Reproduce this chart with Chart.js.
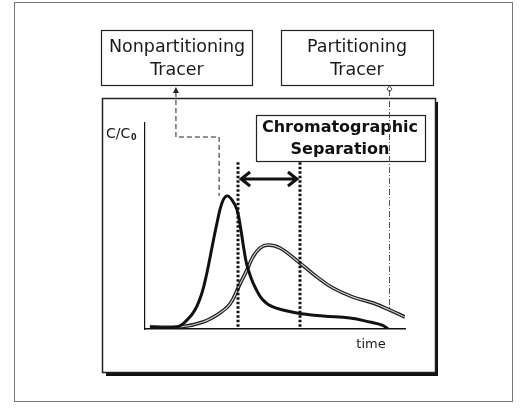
<!DOCTYPE html>
<html>
<head>
<meta charset="utf-8">
<script src="https://cdn.jsdelivr.net/npm/chart.js@4/dist/chart.umd.min.js"></script>
<style>html,body{margin:0;background:#fff}</style>
</head>
<body>
<canvas id="c" width="523" height="408"></canvas>
<script>
// breakthrough curves, time in % of the axis, concentration as C/C0
const npTime = [1.9, 12.3, 16.2, 19.2, 21.9, 23.8, 25.8, 27.7, 29.6, 31.5, 33.5, 35.4, 36.9, 38.1, 39.2, 40.8, 42.3, 45.0, 49.2, 58.5, 68.5, 78.8, 86.5, 91.2, 93.5];
const npConc = [0.01, 0.01, 0.044, 0.092, 0.175, 0.272, 0.398, 0.515, 0.612, 0.646, 0.626, 0.578, 0.48, 0.383, 0.31, 0.248, 0.204, 0.146, 0.107, 0.078, 0.063, 0.053, 0.034, 0.019, 0.0];
const pTime = [1.9, 13.5, 22.3, 28.8, 32.7, 36.5, 39.2, 41.5, 44.2, 47.3, 51.9, 59.6, 66.2, 72.3, 80.0, 87.7, 94.2, 100];
const pConc = [0.01, 0.01, 0.034, 0.078, 0.121, 0.218, 0.286, 0.35, 0.393, 0.408, 0.393, 0.32, 0.252, 0.199, 0.155, 0.126, 0.092, 0.058];

// annotation positions (data units)
const separation = [35.8, 59.6];
const separationTop = 0.81;
const arrowLevel = 0.728;
const npLeaderX = [11.9, 28.5];
const npLeaderY = [0.932, 0.646];
const pLeaderX = 93.8;
const pLeaderY = 0.10;

const pts = (xs, ys) => xs.map((x, i) => ({x: x, y: ys[i]}));
const FONT = '"DejaVu Sans", sans-serif';

function box(ctx, x, y, w, h, lw) {
  ctx.save();
  ctx.strokeStyle = '#222';
  ctx.lineWidth = lw;
  ctx.strokeRect(x, y, w, h);
  ctx.restore();
}

const frame = {
  id: 'frame',
  beforeDraw(chart) {
    const ctx = chart.ctx;
    ctx.save();
    ctx.fillStyle = '#fff';
    ctx.fillRect(0, 0, 523, 408);
    ctx.strokeStyle = '#777';
    ctx.lineWidth = 1;
    ctx.strokeRect(14.5, 2.5, 498, 399);
    // panel with shadow
    ctx.fillStyle = '#111';
    ctx.fillRect(106, 102, 332, 274);
    ctx.fillStyle = '#fff';
    ctx.fillRect(102, 98, 333, 274);
    ctx.restore();
    box(ctx, 102.5, 98.5, 333, 274, 1.5);
    box(ctx, 101.5, 30.5, 151, 55, 1.2);
    box(ctx, 281.5, 30.5, 152, 55, 1.2);

    ctx.save();
    ctx.fillStyle = '#1a1a1a';
    ctx.textAlign = 'center';
    ctx.textBaseline = 'middle';
    ctx.font = '17.5px ' + FONT;
    ctx.fillText('Nonpartitioning', 177, 47);
    ctx.fillText('Tracer', 177, 70);
    ctx.fillText('Partitioning', 357, 47);
    ctx.fillText('Tracer', 357, 70);
    ctx.font = '13px ' + FONT;
    ctx.fillText('time', 371, 345);
    ctx.textAlign = 'left';
    ctx.font = '14px ' + FONT;
    ctx.fillText('C/C', 106, 134);
    ctx.font = 'bold 8px ' + FONT;
    ctx.fillText('0', 131, 138);
    ctx.restore();
  },
  afterDatasetsDraw(chart) {
    const ctx = chart.ctx;
    const xs = chart.scales.x, ys = chart.scales.y;
    const base = ys.getPixelForValue(0);

    ctx.save();
    // separation box
    box(ctx, 256.5, 115.5, 169, 46, 1.2);
    ctx.fillStyle = '#111';
    ctx.textAlign = 'center';
    ctx.textBaseline = 'middle';
    ctx.font = 'bold 16px ' + FONT;
    ctx.fillText('Chromatographic', 340, 128);
    ctx.fillText('Separation', 340, 150);

    // dotted arrival lines
    ctx.strokeStyle = '#111';
    ctx.lineWidth = 3;
    ctx.setLineDash([2.5, 2]);
    separation.forEach(t => {
      const px = Math.round(xs.getPixelForValue(t));
      ctx.beginPath();
      ctx.moveTo(px, ys.getPixelForValue(separationTop));
      ctx.lineTo(px, base);
      ctx.stroke();
    });

    // double arrow
    ctx.setLineDash([]);
    const ay = ys.getPixelForValue(arrowLevel);
    const a0 = xs.getPixelForValue(separation[0]) + 3;
    const a1 = xs.getPixelForValue(separation[1]) - 3;
    ctx.lineWidth = 3;
    ctx.beginPath();
    ctx.moveTo(a0, ay); ctx.lineTo(a1, ay);
    ctx.moveTo(a0 + 9, ay - 7); ctx.lineTo(a0, ay); ctx.lineTo(a0 + 9, ay + 7);
    ctx.moveTo(a1 - 9, ay - 7); ctx.lineTo(a1, ay); ctx.lineTo(a1 - 9, ay + 7);
    ctx.stroke();

    // nonpartitioning leader
    const lx0 = xs.getPixelForValue(npLeaderX[0]);
    const lx1 = xs.getPixelForValue(npLeaderX[1]);
    const ly0 = ys.getPixelForValue(npLeaderY[0]);
    const ly1 = ys.getPixelForValue(npLeaderY[1]);
    ctx.lineWidth = 1;
    ctx.strokeStyle = '#222';
    ctx.setLineDash([5, 3]);
    ctx.beginPath();
    ctx.moveTo(lx0, 92); ctx.lineTo(lx0, ly0); ctx.lineTo(lx1, ly0); ctx.lineTo(lx1, ly1);
    ctx.stroke();
    ctx.setLineDash([]);
    ctx.fillStyle = '#222';
    ctx.beginPath();
    ctx.moveTo(lx0, 87); ctx.lineTo(lx0 - 3, 93); ctx.lineTo(lx0 + 3, 93); ctx.closePath();
    ctx.fill();

    // partitioning leader
    const px = Math.round(xs.getPixelForValue(pLeaderX)) + 0.5;
    ctx.strokeStyle = '#555';
    ctx.setLineDash([6, 2, 1, 2]);
    ctx.beginPath();
    ctx.moveTo(px, 90); ctx.lineTo(px, ys.getPixelForValue(pLeaderY));
    ctx.stroke();
    ctx.setLineDash([]);
    ctx.strokeStyle = '#444';
    ctx.beginPath();
    ctx.moveTo(px, 86); ctx.lineTo(px - 2.5, 89); ctx.lineTo(px, 92); ctx.lineTo(px + 2.5, 89); ctx.closePath();
    ctx.stroke();
    ctx.restore();
  }
};

new Chart(document.getElementById('c'), {
  type: 'scatter',
  data: {
    datasets: [
      {label: 'Nonpartitioning Tracer', data: pts(npTime, npConc), showLine: true, borderColor: '#111', borderWidth: 3, pointRadius: 0, tension: 0.4, order: 0},
      {label: 'Partitioning Tracer', data: pts(pTime, pConc), showLine: true, borderColor: '#d0d0d0', borderWidth: 1.2, pointRadius: 0, tension: 0.4, order: 1},
      {label: 'Partitioning Tracer outline', data: pts(pTime, pConc), showLine: true, borderColor: '#1a1a1a', borderWidth: 3.6, pointRadius: 0, tension: 0.4, order: 2}
    ]
  },
  options: {
    responsive: false,
    animation: false,
    devicePixelRatio: 1,
    layout: {padding: {left: 145, right: 118, top: 123, bottom: 79}},
    plugins: {legend: {display: false}, tooltip: {enabled: false}},
    scales: {
      x: {type: 'linear', min: 0, max: 100, afterFit: s => { s.height = 0; }, ticks: {display: false}, grid: {display: false}, border: {display: true, color: '#111', width: 1.6}},
      y: {min: 0, max: 1, afterFit: s => { s.width = 0; }, ticks: {display: false}, grid: {display: false}, border: {display: true, color: '#111', width: 1.2}}
    }
  },
  plugins: [frame]
});
</script>
</body>
</html>
